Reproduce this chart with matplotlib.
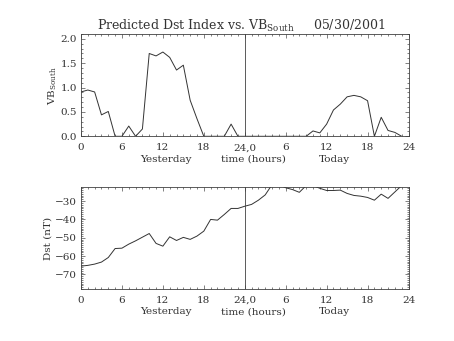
import numpy as np
import matplotlib
matplotlib.use("Agg")
import matplotlib.pyplot as plt
import matplotlib.ticker as mticker

# hours 0..47 : yesterday 0-23, today 24-47
hours = np.arange(48)

vb_south = [0.91, 0.95, 0.91, 0.44, 0.51, 0.0, 0.0, 0.21, 0.0, 0.15,
            1.70, 1.65, 1.73, 1.62, 1.36, 1.46, 0.74, 0.36, 0.0, 0.0,
            0.0, 0.0, 0.25, 0.0,
            0.0, 0.0, 0.0, 0.0, 0.0, 0.0, 0.0, 0.0, 0.0, 0.0,
            0.11, 0.07, 0.25, 0.54, 0.66, 0.81, 0.84, 0.81, 0.73, 0.0,
            0.39, 0.12, 0.08, 0.0]

dst = [-65.5, -65.1, -64.4, -63.3, -60.8, -55.9, -55.7, -53.5, -51.7, -49.7,
       -47.7, -53.1, -54.6, -49.5, -51.5, -49.8, -50.9, -49.1, -46.4, -40.0,
       -40.4, -37.3, -34.0, -34.0,
       -32.8, -31.8, -29.5, -26.6, -21.0, -21.0, -22.7, -23.7, -25.2, -21.5,
       -21.5, -23.0, -24.2, -24.2, -24.0, -25.8, -26.9, -27.3, -28.0, -29.5,
       -26.2, -28.5, -25.0, -21.5]

xtick_pos = [0, 6, 12, 18, 24, 30, 36, 42, 48]
xtick_labels = ["0", "6", "12", "18", "24,0", "6", "12", "18", "24"]

plt.rcParams["font.family"] = "DejaVu Serif"
plt.rcParams["mathtext.fontset"] = "dejavuserif"
plt.rcParams["text.color"] = "0.2"
plt.rcParams["xtick.labelcolor"] = "0.2"
plt.rcParams["ytick.labelcolor"] = "0.2"
plt.rcParams["axes.labelcolor"] = "0.2"

fig = plt.figure(figsize=(4.54, 3.41), dpi=100)
ax1 = fig.add_axes([0.1784, 0.6003, 0.7214, 0.300])
ax2 = fig.add_axes([0.1784, 0.1525, 0.7214, 0.298])


def style_axis(ax, ymajor, yminor):
    ax.set_xlim(0, 48)
    ax.set_xticks(xtick_pos)
    ax.set_xticklabels(xtick_labels)
    ax.xaxis.set_minor_locator(mticker.MultipleLocator(1))
    ax.yaxis.set_major_locator(mticker.MultipleLocator(ymajor))
    ax.yaxis.set_minor_locator(mticker.MultipleLocator(yminor))
    ax.tick_params(which="both", direction="in", top=True, right=True,
                   labelsize=7.5, width=0.5, color="0.3")
    ax.tick_params(axis="x", pad=5)
    ax.tick_params(axis="y", pad=3)
    ax.tick_params(which="major", length=3)
    ax.tick_params(which="minor", length=1.5)
    for s in ax.spines.values():
        s.set_linewidth(0.6)
        s.set_color("0.25")
    ax.axvline(24, color="0.25", lw=0.6)
    for xpos, word in [(0.259, "Yesterday"), (0.525, "time (hours)"), (0.774, "Today")]:
        ax.text(xpos, -0.25, word, transform=ax.transAxes, ha="center", va="baseline", fontsize=7.5)


ax1.plot(hours, vb_south, color="0.2", lw=0.7)
ax1.set_ylim(0, 2.1)
style_axis(ax1, 0.5, 0.1)
ax1.yaxis.set_major_formatter(mticker.FormatStrFormatter("%.1f"))
ax1.set_ylabel(r"VB$_{\mathrm{South}}$", fontsize=7.5, labelpad=1)
ax1.set_title(r"Predicted Dst Index vs. VB$_{\mathrm{South}}$     05/30/2001",
              fontsize=9, pad=2, x=0.49)

ax2.plot(hours, dst, color="0.2", lw=0.7)
ax2.set_ylim(-78, -22.5)
style_axis(ax2, 10, 1)
ax2.set_ylabel("Dst (nT)", fontsize=7.5, labelpad=2)

fig.savefig("out.png", dpi=100)
